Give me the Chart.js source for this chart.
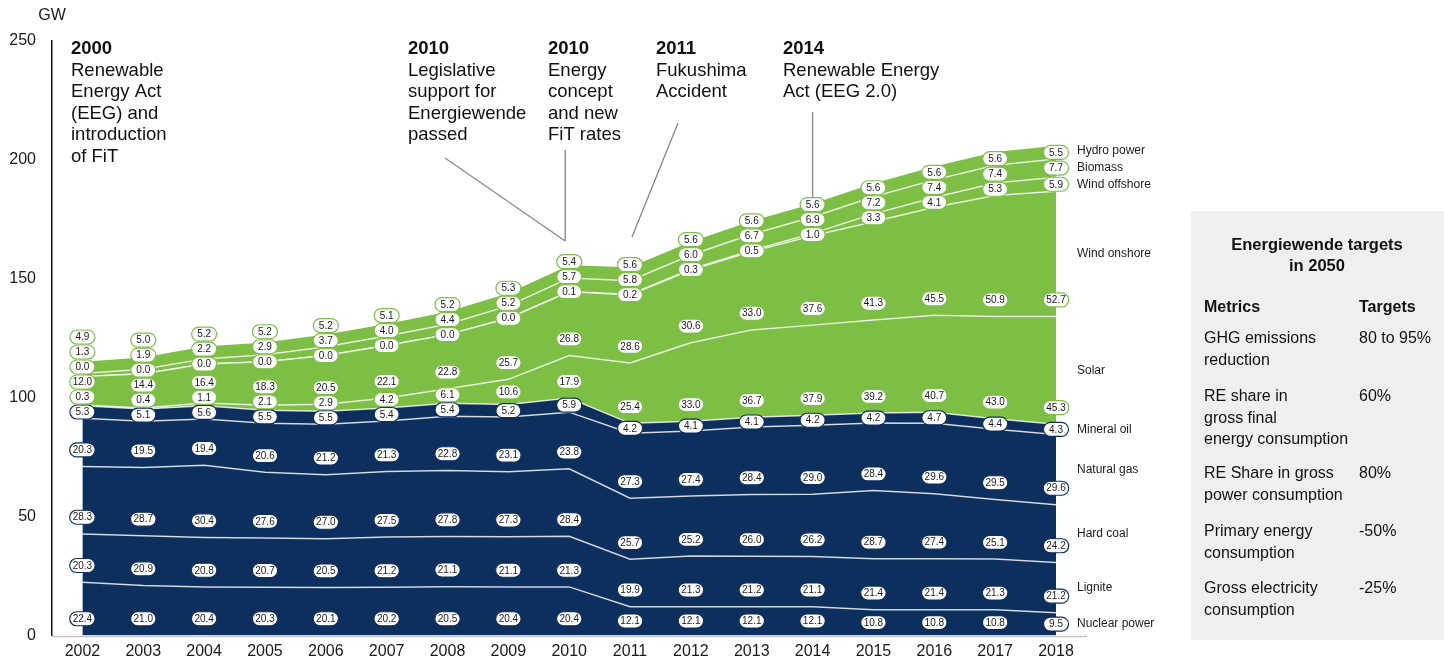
<!DOCTYPE html>
<html><head><meta charset="utf-8">
<script src="https://cdn.jsdelivr.net/npm/chart.js@4.4.1/dist/chart.umd.min.js"></script>
<style>html,body{margin:0;padding:0;background:#fff;overflow:hidden}</style>
</head><body>
<canvas id="c" width="1444" height="661" style="display:block;width:1444px;height:661px"></canvas>
<script>
// ---------- DATA ----------
const years = [2002,2003,2004,2005,2006,2007,2008,2009,2010,2011,2012,2013,2014,2015,2016,2017,2018];
const nuclear      = [22.4,21.0,20.4,20.3,20.1,20.2,20.5,20.4,20.4,12.1,12.1,12.1,12.1,10.8,10.8,10.8,9.5];
const lignite      = [20.3,20.9,20.8,20.7,20.5,21.2,21.1,21.1,21.3,19.9,21.3,21.2,21.1,21.4,21.4,21.3,21.2];
const hardCoal     = [28.3,28.7,30.4,27.6,27.0,27.5,27.8,27.3,28.4,25.7,25.2,26.0,26.2,28.7,27.4,25.1,24.2];
const naturalGas   = [20.3,19.5,19.4,20.6,21.2,21.3,22.8,23.1,23.8,27.3,27.4,28.4,29.0,28.4,29.6,29.5,29.6];
const mineralOil   = [5.3,5.1,5.6,5.5,5.5,5.4,5.4,5.2,5.9,4.2,4.1,4.1,4.2,4.2,4.7,4.4,4.3];
const solar        = [0.3,0.4,1.1,2.1,2.9,4.2,6.1,10.6,17.9,25.4,33.0,36.7,37.9,39.2,40.7,43.0,45.3];
const windOnshore  = [12.0,14.4,16.4,18.3,20.5,22.1,22.8,25.7,26.8,28.6,30.6,33.0,37.6,41.3,45.5,50.9,52.7];
const windOffshore = [0.0,0.0,0.0,0.0,0.0,0.0,0.0,0.0,0.1,0.2,0.3,0.5,1.0,3.3,4.1,5.3,5.9];
const biomass      = [1.3,1.9,2.2,2.9,3.7,4.0,4.4,5.2,5.7,5.8,6.0,6.7,6.9,7.2,7.4,7.4,7.7];
const hydro        = [4.9,5.0,5.2,5.2,5.2,5.1,5.2,5.3,5.4,5.6,5.6,5.6,5.6,5.6,5.6,5.6,5.5];

const seriesNames  = ['Nuclear power','Lignite','Hard coal','Natural gas','Mineral oil','Solar','Wind onshore','Wind offshore','Biomass','Hydro power'];
const seriesValues = [nuclear,lignite,hardCoal,naturalGas,mineralOil,solar,windOnshore,windOffshore,biomass,hydro];
const seriesGroup  = ['fossil','fossil','fossil','fossil','fossil','renewable','renewable','renewable','renewable','renewable'];
const yTicks = [0,50,100,150,200,250];
const yUnit = 'GW';

const annotationTexts = [
  ['2000','Renewable','Energy Act','(EEG) and','introduction','of FiT'],
  ['2010','Legislative','support for','Energiewende','passed'],
  ['2010','Energy','concept','and new','FiT rates'],
  ['2011','Fukushima','Accident'],
  ['2014','Renewable Energy','Act (EEG 2.0)']
];
const targetsTitle = ['Energiewende targets','in 2050'];
const targetsHeader = ['Metrics','Targets'];
const targetMetrics = [
  ['GHG emissions','reduction'],
  ['RE share in','gross final','energy consumption'],
  ['RE Share in gross','power consumption'],
  ['Primary energy','consumption'],
  ['Gross electricity','consumption']
];
const targetValues = ['80 to 95%','60%','80%','-50%','-25%'];

// ---------- STYLE ----------
const FONT = '"Liberation Sans", Arial, Helvetica, sans-serif';
const NAVY = '#0d2f5e';
const GREEN = '#7dbf44';
const groupColor = g => g === 'fossil' ? NAVY : GREEN;
Chart.defaults.font.family = FONT;

function pill(ctx, cx, cy, text, stroke){
  const tw = ctx.measureText(text).width;
  const w = Math.max(25, tw + 6), h = 14, r = 7;
  const x0 = cx - w/2, y0 = cy - h/2;
  ctx.beginPath();
  ctx.moveTo(x0 + r, y0);
  ctx.lineTo(x0 + w - r, y0);
  ctx.arc(x0 + w - r, cy, r, -Math.PI/2, Math.PI/2);
  ctx.lineTo(x0 + r, y0 + h);
  ctx.arc(x0 + r, cy, r, Math.PI/2, Math.PI*1.5);
  ctx.closePath();
  ctx.fillStyle = '#fff';
  ctx.fill();
  ctx.lineWidth = 1.2;
  ctx.strokeStyle = stroke;
  ctx.stroke();
  ctx.fillStyle = '#1a1a1a';
  ctx.fillText(text, cx, cy + 0.5);
}

const overlay = {
  id: 'overlay',
  beforeDraw(chart){
    const ctx = chart.ctx;
    ctx.save();
    ctx.fillStyle = '#efefef';
    ctx.fillRect(1191, 211, 253, 429);
    ctx.restore();
  },
  afterDatasetsDraw(chart){
    const {ctx, scales:{x, y}, chartArea} = chart;
    ctx.save();
    // baseline
    ctx.strokeStyle = '#c4c4c4';
    ctx.lineWidth = 1.5;
    ctx.beginPath();
    ctx.moveTo(chartArea.left, chartArea.bottom + 1);
    ctx.lineTo(chartArea.right + 31, chartArea.bottom + 1);
    ctx.stroke();

    // value labels
    ctx.font = '10px ' + FONT;
    ctx.textAlign = 'center';
    ctx.textBaseline = 'middle';
    years.forEach((yr, j) => {
      const px = x.getPixelForValue(yr);
      let base = 0, prev = Infinity;
      seriesValues.forEach((vals, i) => {
        const v = vals[j];
        let py = y.getPixelForValue(base + Math.min(v/2, 7));
        if (py > prev - 15) py = prev - 15;
        prev = py;
        base += v;
        pill(ctx, px, py, v.toFixed(1), groupColor(seriesGroup[i]));
      });
    });

    // series names at right
    ctx.font = '12px ' + FONT;
    ctx.textAlign = 'left';
    ctx.fillStyle = '#1a1a1a';
    const last = years.length - 1;
    let base = 0, prev = Infinity;
    seriesValues.forEach((vals, i) => {
      const v = vals[last];
      let py = y.getPixelForValue(base + v/2);
      if (py > prev - 17) py = prev - 17;
      prev = py;
      base += v;
      ctx.fillText(seriesNames[i], chartArea.right + 21, py);
    });

    // unit label
    ctx.font = '16px ' + FONT;
    ctx.textAlign = 'center';
    ctx.fillText(yUnit, chartArea.left, 16);

    // annotations
    const annX = [71, 408, 548, 656, 783];
    annotationTexts.forEach((lines, k) => {
      lines.forEach((t, li) => {
        ctx.font = (li === 0 ? 'bold ' : '') + '18.5px ' + FONT;
        ctx.textAlign = 'left';
        ctx.fillStyle = '#111';
        ctx.fillText(t, annX[k], 49 + li * 21.5);
      });
    });
    // connectors
    ctx.strokeStyle = '#8c8c8c';
    ctx.lineWidth = 1.4;
    const x2010 = x.getPixelForValue(2010) - 4;
    const x2014 = x.getPixelForValue(2014);
    ctx.beginPath();
    ctx.moveTo(445, 158); ctx.lineTo(x2010, 241);
    ctx.moveTo(x2010, 150); ctx.lineTo(x2010, 241);
    ctx.moveTo(678, 123); ctx.lineTo(632, 237);
    ctx.moveTo(x2014, 112); ctx.lineTo(x2014, 198);
    ctx.stroke();

    // targets panel text
    ctx.fillStyle = '#111';
    ctx.textAlign = 'center';
    ctx.font = 'bold 16.5px ' + FONT;
    ctx.fillText(targetsTitle[0], 1317, 245);
    ctx.fillText(targetsTitle[1], 1317, 266);
    ctx.textAlign = 'left';
    ctx.font = 'bold 16px ' + FONT;
    ctx.fillText(targetsHeader[0], 1204, 308);
    ctx.fillText(targetsHeader[1], 1359, 308);
    ctx.font = '16px ' + FONT;
    const rowY = [339, 397, 474, 532, 589];
    targetMetrics.forEach((lines, r) => {
      lines.forEach((t, li) => ctx.fillText(t, 1204, rowY[r] + li * 21.3));
      ctx.fillText(targetValues[r], 1359, rowY[r]);
    });
    ctx.restore();
  }
};

const datasets = seriesValues.map((vals, i) => {
  const col = groupColor(seriesGroup[i]);
  const top = i === seriesValues.length - 1;
  return {
    label: seriesNames[i],
    data: vals.map((v, j) => ({x: years[j], y: v})),
    fill: i === 0 ? 'origin' : '-1',
    backgroundColor: col,
    borderColor: top ? col : 'rgba(255,255,255,0.78)',
    borderWidth: top ? 0 : 1.5,
    pointRadius: 0,
    pointHoverRadius: 0,
    tension: 0
  };
});

new Chart(document.getElementById('c'), {
  type: 'line',
  data: { datasets },
  options: {
    responsive: false,
    animation: false,
    devicePixelRatio: 1,
    layout: { padding: { top: 41, right: 388, left: 0, bottom: 0 } },
    plugins: { legend: { display: false }, tooltip: { enabled: false } },
    scales: {
      x: {
        type: 'linear', min: 2001.5, max: 2018,
        afterBuildTicks: s => { s.ticks = years.map(v => ({value: v})); },
        afterFit: s => { s.height = 23; },
        ticks: { callback: v => String(v), font: {size: 16}, color: '#1a1a1a', padding: 7, maxRotation: 0, autoSkip: false },
        grid: { display: false, drawTicks: false },
        border: { display: false }
      },
      y: {
        stacked: true, min: 0, max: 250,
        afterBuildTicks: s => { s.ticks = yTicks.map(v => ({value: v})); },
        afterFit: s => { s.width = 52; },
        ticks: { font: {size: 16}, color: '#1a1a1a', padding: 16 },
        grid: { display: false, drawTicks: false },
        border: { display: true, color: '#111', width: 1.5 }
      }
    }
  },
  plugins: [overlay]
});
</script>
</body></html>
